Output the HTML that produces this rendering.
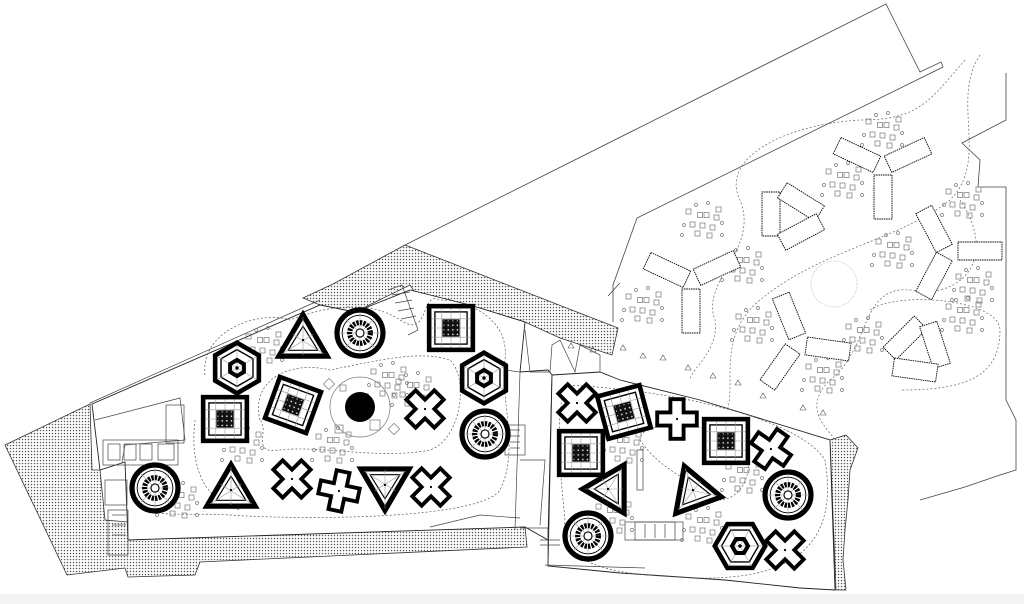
<!DOCTYPE html>
<html><head><meta charset="utf-8"><style>
html,body{margin:0;padding:0;background:#fff;width:1024px;height:604px;overflow:hidden}
svg{display:block}
</style></head><body>
<svg width="1024" height="604" viewBox="0 0 1024 604" xmlns="http://www.w3.org/2000/svg">
<defs>
<pattern id="dots" width="3" height="3" patternUnits="userSpaceOnUse"><rect width="3" height="3" fill="#fff"/><circle cx="1.5" cy="1.5" r="0.75" fill="#555"/></pattern>
<pattern id="cen" width="4" height="4" patternUnits="userSpaceOnUse"><rect width="4" height="4" fill="#111"/><rect x="1" y="1" width="1.2" height="1.2" fill="#fff"/></pattern>
<g id="ring" transform="scale(1.15)">
<circle r="20" fill="#fff" stroke="#000" stroke-width="4.5"/>
<circle r="15.5" fill="none" stroke="#000" stroke-width="0.8"/>
<g stroke="#999" stroke-width="0.5"><line x1="-18" y1="0" x2="18" y2="0"/><line x1="0" y1="-18" x2="0" y2="18"/><line x1="-13" y1="-13" x2="13" y2="13"/><line x1="13" y1="-13" x2="-13" y2="13"/></g>
<circle r="9" fill="none" stroke="#000" stroke-width="4.5" stroke-dasharray="2 1"/>
<circle r="3.5" fill="#fff" stroke="#000" stroke-width="1"/>
</g>
<g id="sq" transform="scale(1.15)">
<rect x="-19" y="-19" width="38" height="38" fill="#fff" stroke="#000" stroke-width="4"/>
<rect x="-14" y="-14" width="28" height="28" fill="none" stroke="#000" stroke-width="1.2"/>
<g stroke="#999" stroke-width="0.5"><line x1="-17" y1="0" x2="17" y2="0"/><line x1="0" y1="-17" x2="0" y2="17"/><line x1="-17" y1="-8" x2="17" y2="-8"/><line x1="-17" y1="8" x2="17" y2="8"/><line x1="-8" y1="-17" x2="-8" y2="17"/><line x1="8" y1="-17" x2="8" y2="17"/></g>
<rect x="-7" y="-7" width="14" height="14" fill="url(#cen)" stroke="#000" stroke-width="1"/>
</g>
<g id="hex" transform="scale(1.15)">
<polygon points="0,-22 19,-11 19,11 0,22 -19,11 -19,-11" fill="#fff" stroke="#000" stroke-width="4"/>
<polygon points="0,-16 13.9,-8 13.9,8 0,16 -13.9,8 -13.9,-8" fill="none" stroke="#000" stroke-width="1.2"/>
<g stroke="#999" stroke-width="0.5"><line x1="0" y1="-20" x2="0" y2="20"/><line x1="-17" y1="-10" x2="17" y2="10"/><line x1="17" y1="-10" x2="-17" y2="10"/></g>
<polygon points="0,-7 6,-3.5 6,3.5 0,7 -6,3.5 -6,-3.5" fill="none" stroke="#000" stroke-width="3.5"/>
<circle r="1.5" fill="#000"/>
</g>
<g id="tri" transform="scale(1.15)">
<polygon points="0,-22 21,14 -21,14" fill="#fff" stroke="#000" stroke-width="4.5" stroke-linejoin="miter"/>
<polygon points="0,-12 13,9 -13,9" fill="none" stroke="#000" stroke-width="1"/>
<g stroke="#999" stroke-width="0.5"><line x1="0" y1="-20" x2="0" y2="13"/><line x1="-18" y1="12" x2="9" y2="-5"/><line x1="18" y1="12" x2="-9" y2="-5"/></g>
<circle r="1" fill="#000"/>
</g>
<g id="x" transform="scale(1.1)">
<path d="M-6,-18 H6 V-6 H18 V6 H6 V18 H-6 V6 H-18 V-6 H-6 Z" fill="#fff" stroke="#000" stroke-width="3.5" transform="rotate(45)"/>
<circle r="1" fill="#000"/>
</g>
<g id="plus" transform="scale(1.1)">
<path d="M-6,-18 H6 V-6 H18 V6 H6 V18 H-6 V6 H-18 V-6 H-6 Z" fill="#fff" stroke="#000" stroke-width="3.5"/>
<circle r="1" fill="#000"/>
</g>
<rect id="tent" x="-22" y="-9" width="44" height="18" fill="#fff" stroke="#000" stroke-width="0.9" stroke-dasharray="1.5 0.8"/>
<g id="tbl" fill="none" stroke="#777" stroke-width="0.7">
<rect x="-2.5" y="-2.5" width="5" height="5"/><rect x="4" y="-2.5" width="5" height="5"/><rect x="14" y="0" width="5" height="5"/><rect x="-10" y="7" width="5" height="5"/><rect x="0" y="8" width="5" height="5"/><rect x="10" y="10" width="5" height="5"/><rect x="-5" y="16" width="5" height="5"/><rect x="7" y="18" width="5" height="5"/><rect x="-14" y="-6" width="5" height="5"/><rect x="16" y="-8" width="5" height="5"/>
<circle cx="-16" cy="10" r="1.5"/><circle cx="22" cy="8" r="1.5"/><circle cx="-4" cy="-10" r="1.5"/><circle cx="8" cy="-12" r="1.5"/><circle cx="22" cy="20" r="1.5"/><circle cx="-18" cy="20" r="1.5"/>
</g>
</defs>

<rect x="0" y="594" width="1024" height="10" fill="#f4f4f4"/>

<g fill="none" stroke="#444" stroke-width="0.8">
<polyline points="405,245 886,4 920,72 941,62 943,67 637,218 613,285 613,322"/>
<polyline points="1006,73 1006,120 962,143 980,160 978,187 1006,187 1006,400 1016,420 1016,470 1000,475 965,487 920,500"/>
<polyline points="608,296 620,283"/>
</g>
<g fill="none" stroke="#666" stroke-width="0.7" stroke-dasharray="2 2">
<path d="M980,55 C950,100 990,160 950,200 C900,240 820,250 760,300 C700,350 760,420 700,430"/>
<path d="M965,60 C930,100 920,120 860,120 C780,125 720,160 740,200 C760,250 700,280 715,320 C720,350 690,370 690,380"/>
<path d="M960,200 C1000,260 960,300 910,290 C860,285 870,350 830,380 C800,410 830,430 835,440"/>
<path d="M870,310 C900,290 1000,300 1000,330 C1000,380 960,390 900,390"/>
<circle cx="834" cy="284" r="23" stroke="#aaa" stroke-dasharray="1 1.5"/>
</g>

<g fill="url(#dots)" stroke="#333" stroke-width="0.8">
<polygon points="5,445 90,404 92,470 100,470 105,520 128,522 128,540 195,532 525,527 527,547 200,562 195,575 128,577 125,568 67,575"/>
<polygon points="303,298 333,284 405,245 618,328 612,355 560,338 525,322 470,305 420,300 410,285 355,312 320,305"/>
<polygon points="830,440 846,435 858,448 850,470 848,500 845,530 843,560 846,590 836,590"/>
</g>

<g fill="#fff" stroke="#222" stroke-width="0.9">
<polygon points="92,404 320,305 355,312 410,290 470,305 525,322 520,372 548,370 552,375 548,540 525,527 128,540 125,462 100,470"/>
</g>
<g fill="none" stroke="#444" stroke-width="0.7">
<polyline points="90,403 320,300"/>
<polyline points="95,420 180,398 185,440 125,445 122,462"/>
<rect x="103" y="440" width="75" height="25"/>
<rect x="108" y="444" width="12" height="16"/><rect x="124" y="444" width="12" height="16"/><rect x="140" y="444" width="12" height="16"/><rect x="158" y="444" width="16" height="16"/>
<rect x="166" y="405" width="18" height="38"/>
<rect x="105" y="480" width="22" height="25"/><rect x="108" y="510" width="20" height="45"/>
<line x1="112" y1="515" x2="126" y2="515"/><line x1="112" y1="525" x2="126" y2="525"/><line x1="112" y1="535" x2="126" y2="535"/>
<polyline points="388,290 402,285 418,330 408,335 Z"/>
<line x1="392" y1="295" x2="410" y2="292"/><line x1="395" y1="303" x2="412" y2="300"/><line x1="398" y1="311" x2="414" y2="308"/><line x1="401" y1="319" x2="416" y2="316"/>
<polyline points="505,370 520,372 515,530"/>
<rect x="505" y="425" width="20" height="30"/>
<line x1="510" y1="430" x2="520" y2="430"/><line x1="510" y1="436" x2="520" y2="436"/><line x1="510" y1="442" x2="520" y2="442"/><line x1="510" y1="448" x2="520" y2="448"/>
<polyline points="525,330 530,372 550,372 552,345 560,340"/><polyline points="560,340 575,372 580,345 600,355 600,372"/>
<polyline points="520,460 545,460 540,525"/><polyline points="430,527 480,515 520,518"/>
</g>

<g fill="#fff" stroke="#222" stroke-width="0.9">
<polygon points="552,375 600,372 620,380 700,400 830,440 835,590 800,588 725,580 620,573 548,566"/>
</g>
<g fill="none" stroke="#444" stroke-width="0.7">
<polyline points="520,528 548,528 548,566"/>
<line x1="540" y1="540" x2="560" y2="540"/><line x1="540" y1="545" x2="560" y2="545"/>
<rect x="625" y="522" width="58" height="18"/><rect x="635" y="522" width="40" height="18"/>
<line x1="645" y1="524" x2="645" y2="538"/><line x1="655" y1="524" x2="655" y2="538"/><line x1="665" y1="524" x2="665" y2="538"/>
<rect x="637" y="450" width="6" height="40"/>
<polyline points="545,565 645,568"/>
</g>
<g fill="none" stroke="#555" stroke-width="0.6">
<path d="M620,350 l3,-5 l3,5z M640,358 l3,-5 l3,5z M660,360 l3,-5 l3,5z M685,370 l3,-5 l3,5z M710,378 l3,-5 l3,5z M735,385 l3,-5 l3,5z M760,398 l3,-5 l3,5z M800,410 l3,-5 l3,5z M820,415 l3,-5 l3,5z M568,348 l3,-5 l3,5z M590,352 l3,-5 l3,5z"/>
</g>

<g fill="none" stroke="#555" stroke-width="0.7" stroke-dasharray="2 2">
<path d="M205,375 C200,330 260,310 290,320 C330,305 370,300 400,320 C430,340 420,290 440,300 C470,300 510,320 505,360 C500,400 520,450 500,490 C480,520 300,520 230,515 C180,512 140,520 150,500"/>
<path d="M260,420 C250,380 290,360 330,370 C380,360 420,350 450,360 C470,380 460,440 430,450 C380,460 320,445 280,450 C250,455 270,430 260,420 Z"/>
<path d="M195,420 C190,460 200,500 240,510"/>
<path d="M565,385 C680,390 800,420 825,460 C835,520 820,580 700,578 C620,575 560,570 565,520 C560,470 555,420 565,385 Z"/>
<path d="M640,440 C640,420 700,420 740,440 C760,470 740,500 720,500 C690,480 660,470 640,440 Z"/>
</g>

<use href="#tbl" x="385" y="375"/><use href="#tbl" x="330" y="440"/><use href="#tbl" x="410" y="385"/>
<use href="#tbl" x="260" y="340"/><use href="#tbl" x="240" y="440"/><use href="#tbl" x="175" y="495"/>
<use href="#tbl" x="620" y="440"/><use href="#tbl" x="740" y="470"/><use href="#tbl" x="610" y="510"/><use href="#tbl" x="700" y="520"/>
<use href="#tbl" x="880" y="125"/><use href="#tbl" x="840" y="175"/><use href="#tbl" x="700" y="215"/><use href="#tbl" x="640" y="300"/>
<use href="#tbl" x="750" y="320"/><use href="#tbl" x="890" y="245"/><use href="#tbl" x="960" y="195"/><use href="#tbl" x="970" y="280"/>
<use href="#tbl" x="820" y="370"/><use href="#tbl" x="960" y="310"/><use href="#tbl" x="860" y="330"/><use href="#tbl" x="740" y="260"/>

<g fill="none" stroke="#777" stroke-width="0.7">
<circle cx="360" cy="407" r="30"/>
<rect x="325" y="380" width="8" height="8" transform="rotate(45 329 384)"/><rect x="390" y="425" width="8" height="8" transform="rotate(45 394 429)"/>
<rect x="370" y="420" width="10" height="10"/><rect x="335" y="425" width="8" height="8"/><rect x="340" y="385" width="6" height="6"/>
</g>
<circle cx="360" cy="407" r="15" fill="#000"/>

<use href="#hex" x="237" y="368"/>
<use href="#tri" x="303" y="340"/>
<use href="#ring" x="360" y="333"/>
<use href="#sq" x="451" y="328"/>
<use href="#hex" x="484" y="378"/>
<use href="#sq" transform="translate(293,405) rotate(20)"/>
<use href="#sq" x="225" y="419"/>
<use href="#x" x="425" y="409"/>
<use href="#ring" x="485" y="434"/>
<use href="#ring" x="155" y="488"/>
<use href="#tri" x="231" y="490"/>
<use href="#x" x="292" y="479"/>
<use href="#plus" transform="translate(339,491) rotate(12)"/>
<use href="#tri" transform="translate(385,485) rotate(180)"/>
<use href="#x" x="431" y="487"/>

<use href="#x" x="577" y="403"/>
<use href="#sq" transform="translate(624,412) rotate(-15)"/>
<use href="#plus" x="677" y="419"/>
<use href="#sq" x="581" y="453"/>
<use href="#sq" x="726" y="441"/>
<use href="#x" transform="translate(771,449) rotate(-10)"/>
<use href="#tri" transform="translate(608,489) rotate(-90)"/>
<use href="#tri" transform="translate(693,490) rotate(-20)"/>
<use href="#ring" x="788" y="495"/>
<use href="#ring" x="588" y="536"/>
<use href="#hex" transform="translate(740,546) rotate(30)"/>
<use href="#x" x="785" y="550"/>

<use href="#tent" transform="translate(667,270) rotate(25)"/>
<use href="#tent" transform="translate(717,268) rotate(-25)"/>
<use href="#tent" transform="translate(691,311) rotate(90)"/>
<use href="#tent" transform="translate(857,155) rotate(25)"/>
<use href="#tent" transform="translate(908,155) rotate(-25)"/>
<use href="#tent" transform="translate(883,197) rotate(90)"/>
<use href="#tent" transform="translate(771,214) rotate(90)"/>
<use href="#tent" transform="translate(801,202) rotate(32)"/>
<use href="#tent" transform="translate(801,232) rotate(-28)"/>
<use href="#tent" transform="translate(934,229) rotate(62)"/>
<use href="#tent" transform="translate(980,251)"/>
<use href="#tent" transform="translate(934,276) rotate(-62)"/>
<use href="#tent" transform="translate(789,316) rotate(68)"/>
<use href="#tent" transform="translate(828,349) rotate(8)"/>
<use href="#tent" transform="translate(780,367) rotate(-55)"/>
<use href="#tent" transform="translate(905,338) rotate(-45)"/>
<use href="#tent" transform="translate(935,345) rotate(72)"/>
<use href="#tent" transform="translate(915,370) rotate(8)"/>
</svg>
</body></html>
